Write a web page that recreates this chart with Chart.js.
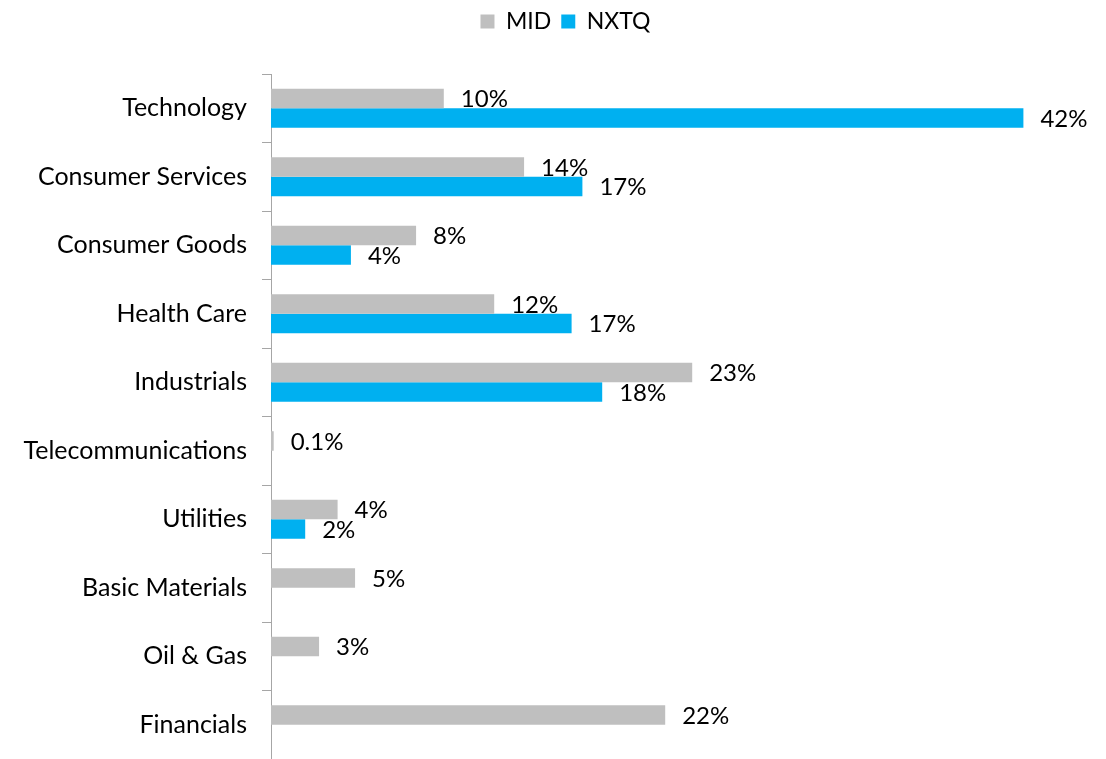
<!DOCTYPE html>
<html>
<head>
<meta charset="utf-8">
<script src="https://cdn.jsdelivr.net/npm/chart.js@4/dist/chart.umd.min.js"></script>
<style>
  html, body { margin: 0; padding: 0; background: #fff; }
  #wrap { width: 1106px; height: 759px; }
</style>
</head>
<body>
<div id="wrap"><canvas id="chart"></canvas></div>
<script>
// sector weights, in percent
const sectors = ["Technology", "Consumer Services", "Consumer Goods", "Health Care", "Industrials",
  "Telecommunications", "Utilities", "Basic Materials", "Oil & Gas", "Financials"];
const midWeights = [9.6, 14.06, 8.06, 12.4, 23.4, 0.15, 3.7, 4.67, 2.67, 21.9];
const nxtqWeights = [41.8, 17.3, 4.44, 16.7, 18.4, null, 1.9, null, null, null];

const FONT = "Lato, 'Open Sans', sans-serif";

function fmt(v) {
  return (v < 1 ? v.toFixed(1) : Math.round(v)) + "%";
}

// value labels just past the end of each bar
const barLabels = {
  id: "barLabels",
  afterDatasetsDraw(chart) {
    const ctx = chart.ctx;
    ctx.save();
    ctx.font = "24px " + FONT;
    ctx.fillStyle = "#000";
    ctx.textBaseline = "middle";
    ctx.textAlign = "left";
    chart.data.datasets.forEach((ds, i) => {
      chart.getDatasetMeta(i).data.forEach((bar, j) => {
        const v = ds.data[j];
        if (v == null) return;
        ctx.fillText(fmt(v), bar.x + 17, bar.y + 1);
      });
    });
    ctx.restore();
  }
};

// extra room under the legend, and centre it a little right of the canvas middle
const legendGap = {
  id: "legendGap",
  beforeInit(chart) {
    const fit = chart.legend.fit;
    chart.legend.fit = function () {
      fit.call(this);
      this.height += 31;
    };
  },
  afterLayout(chart) {
    chart.legend.left += 32;
  }
};

new Chart(document.getElementById("chart"), {
  type: "bar",
  data: {
    labels: sectors,
    datasets: [
      { label: "MID", data: midWeights, backgroundColor: "#bfbfbf" },
      { label: "NXTQ", data: nxtqWeights, backgroundColor: "#00b0f0" }
    ]
  },
  options: {
    indexAxis: "y",
    responsive: true,
    maintainAspectRatio: false,
    animation: false,
    datasets: { bar: { categoryPercentage: 0.57, barPercentage: 1 } },
    layout: { padding: { top: 0, right: 7, bottom: 0, left: 0 } },
    plugins: {
      legend: {
        position: "top",
        labels: {
          font: { family: FONT, size: 23 },
          color: "#000",
          boxWidth: 14,
          boxHeight: 14,
          padding: 10
        }
      },
      tooltip: { enabled: false }
    },
    scales: {
      x: {
        display: false,
        min: 0,
        max: 46
      },
      y: {
        afterFit(scale) {
          scale.width = 271;
          scale.paddingTop = 0;
          scale.paddingBottom = 0;
        },
        grid: {
          offset: true,
          drawOnChartArea: false,
          tickLength: 9,
          color: "#a6a6a6"
        },
        border: { display: true, color: "#a6a6a6" },
        ticks: {
          font: { family: FONT, size: 25 },
          color: "#000",
          padding: 15
        }
      }
    }
  },
  plugins: [barLabels, legendGap]
});
</script>
</body>
</html>
